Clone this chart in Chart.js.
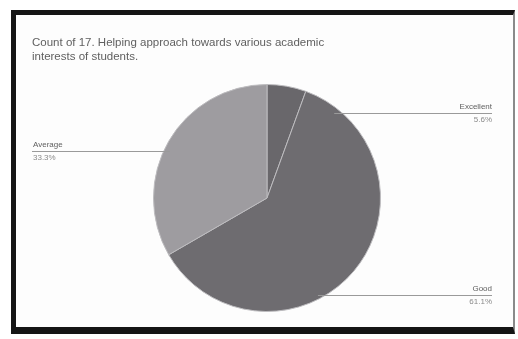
<!DOCTYPE html>
<html>
<head>
<meta charset="utf-8">
<script src="https://cdn.jsdelivr.net/npm/chart.js@4.4.1/dist/chart.umd.min.js"></script>
<style>
  html, body { margin: 0; padding: 0; background: #fff; }
  body { width: 518px; height: 339px; position: relative; overflow: hidden; }
  #frame { position: absolute; left: 11px; top: 10px; width: 497px; height: 312px;
           border-left: 5px solid #151515; border-top: 5px solid #151515;
           border-right: 2px solid #8a8a8a; border-bottom: 7px solid #151515; background: #fdfdfd; }
  #wrap { position: absolute; left: 0; top: 0; width: 518px; height: 339px; }
</style>
</head>
<body>
<div id="frame"></div>
<div id="wrap"><canvas id="c" width="518" height="339"></canvas></div>
<script>
const titleLines = ["Count of 17. Helping approach towards various academic", "interests of students."];
const categories = ["Excellent", "Good", "Average"];
const counts = [1, 11, 6];
const sliceColors = ["#69676b", "#6e6c70", "#9e9ca0"];

const labelPlugin = {
  id: 'leaderLabels',
  afterDraw(chart) {
    const ctx = chart.ctx;
    ctx.save();
    ctx.fillStyle = '#606060';
    ctx.font = '11.5px "Liberation Sans", Arial, sans-serif';
    ctx.textBaseline = 'middle';
    ctx.textAlign = 'left';
    titleLines.forEach((t, i) => ctx.fillText(t, 32, 43 + i * 14));
    ctx.restore();

    const meta = chart.getDatasetMeta(0);
    const total = counts.reduce((a, b) => a + b, 0);
    const layout = [
      { side: 'right', y: 113 },
      { side: 'right', y: 295 },
      { side: 'left',  y: 151 }
    ];
    meta.data.forEach((arc, i) => {
      const cx = arc.x, cy = arc.y, r = arc.outerRadius;
      const L = layout[i];
      const dy = L.y - cy;
      const dx = Math.sqrt(Math.max(0, r * r - dy * dy));
      const pct = (counts[i] / total * 100).toFixed(1) + '%';
      ctx.save();
      ctx.strokeStyle = '#9a9a9a';
      ctx.lineWidth = 1;
      ctx.font = '8px "Liberation Sans", Arial, sans-serif';
      ctx.fillStyle = '#606060';
      ctx.textBaseline = 'middle';
      ctx.beginPath();
      if (L.side === 'right') {
        const x0 = cx + dx - 8;
        const xEnd = 492;
        ctx.moveTo(x0, L.y + 0.5);
        ctx.lineTo(xEnd, L.y + 0.5);
        ctx.stroke();
        ctx.textAlign = 'right';
        ctx.fillText(categories[i], xEnd, L.y - 6);
        ctx.fillStyle = '#8a8a8a';
        ctx.fillText(pct, xEnd, L.y + 7);
      } else {
        const x0 = cx - dx + 6;
        ctx.moveTo(32, L.y + 0.5);
        ctx.lineTo(x0, L.y + 0.5);
        ctx.stroke();
        ctx.textAlign = 'left';
        ctx.fillText(categories[i], 33, L.y - 6);
        ctx.fillStyle = '#8a8a8a';
        ctx.fillText(pct, 33, L.y + 7);
      }
      ctx.restore();
    });
  }
};

new Chart(document.getElementById('c'), {
  type: 'pie',
  data: {
    labels: categories,
    datasets: [{
      data: counts,
      backgroundColor: sliceColors,
      borderColor: '#bdbcbf',
      borderWidth: 1
    }]
  },
  options: {
    responsive: false,
    animation: false,
    rotation: 0,
    layout: { padding: { top: 84, bottom: 27, left: 100, right: 84 } },
    plugins: {
      legend: { display: false },
      title: { display: false },
      tooltip: { enabled: false }
    }
  },
  plugins: [labelPlugin]
});
</script>
</body>
</html>
